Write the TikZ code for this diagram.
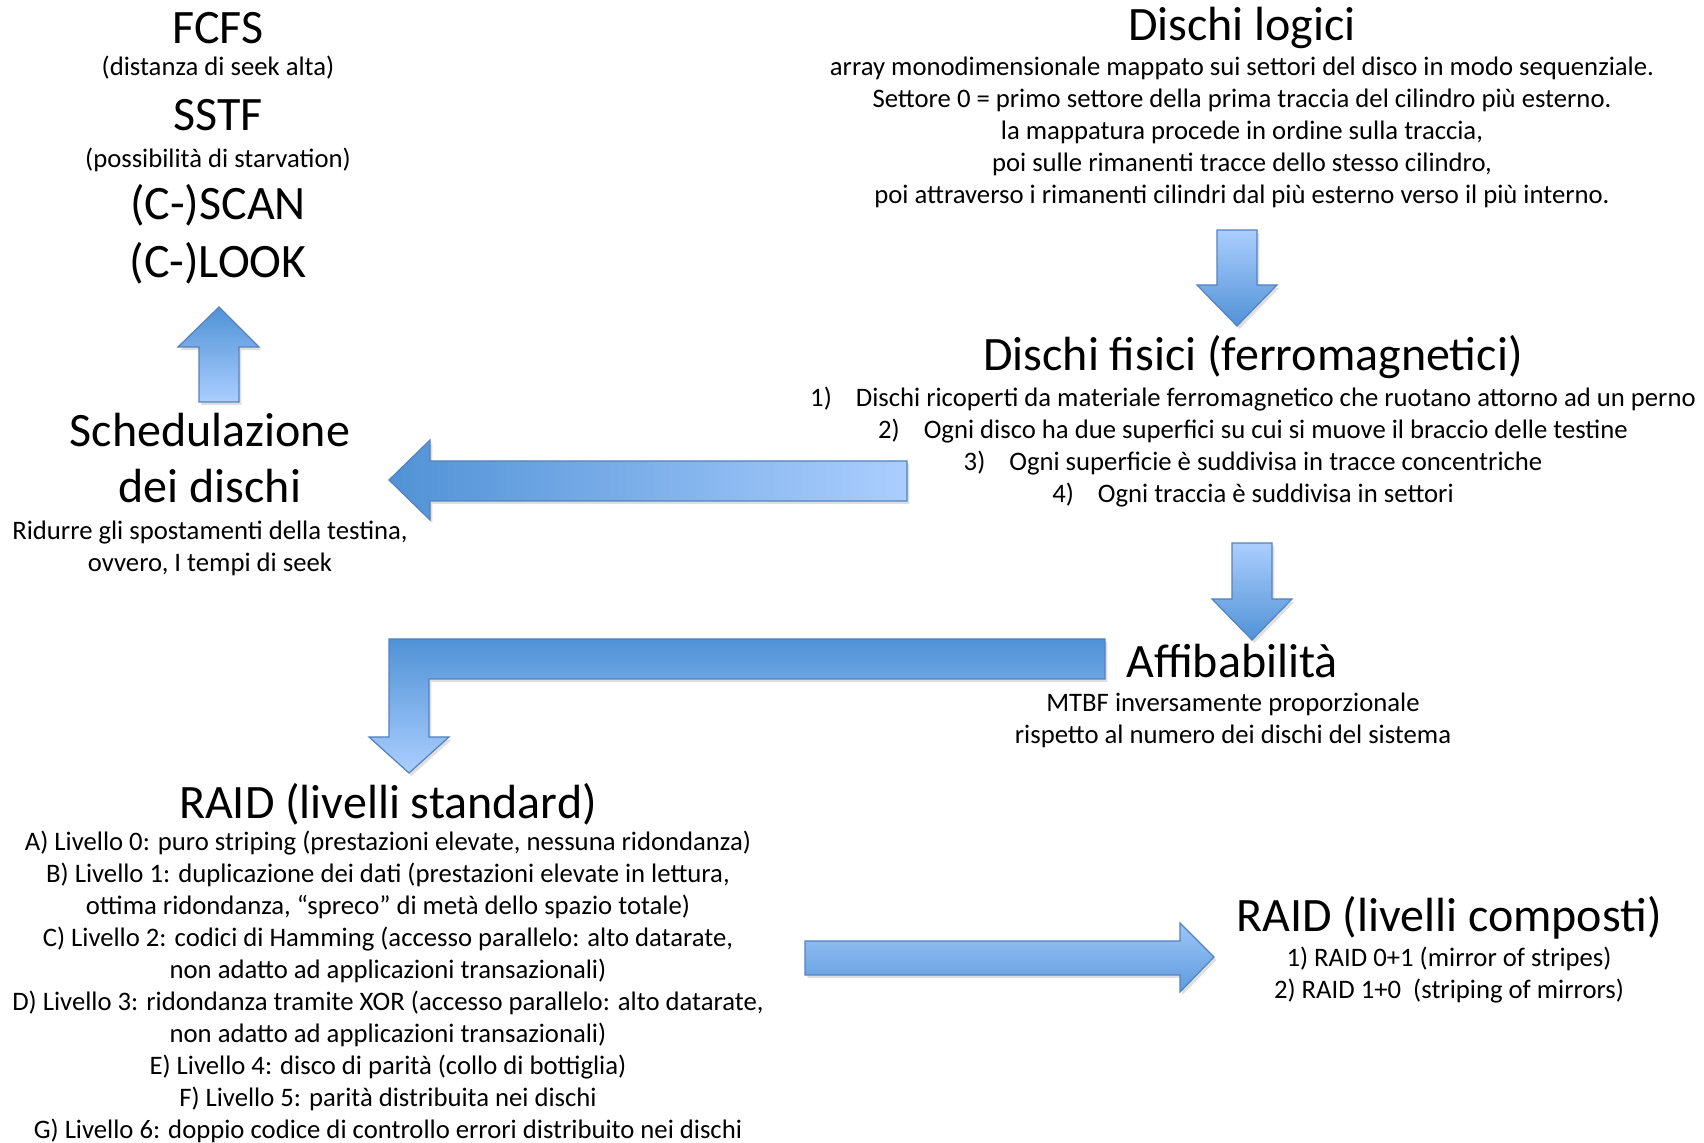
\documentclass[tikz,border=0pt]{standalone}
\usepackage{fontspec}
\setmainfont{Carlito}
\usepackage{xcolor}
\usetikzlibrary{shadows}

\definecolor{arrowDark}{RGB}{80,146,214}
\definecolor{arrowLight}{RGB}{171,206,255}
\definecolor{arrowEdge}{RGB}{84,130,190}

\begin{document}
\begin{tikzpicture}[x=0.5pt, y=-0.5pt,
  bigTitle/.style={inner sep=0pt, align=center, font=\fontsize{24}{28}\selectfont},
  bodyText/.style={inner sep=0pt, align=center, font=\fontsize{13.35}{16}\selectfont},
  fatArrow/.style={draw=arrowEdge, line width=0.6pt, line join=miter,
    drop shadow={opacity=0.25, shadow xshift=1.2pt, shadow yshift=-1.5pt}},
]
  \useasboundingbox (0,0) rectangle (1704,1143);

% Scheduling algorithms
  \node[bigTitle] (fcfs) at (218,28) {FCFS};
  \node[bodyText] (fcfs-note) at (218,68) {(distanza di seek alta)};
  \node[bigTitle] (sstf) at (218,115) {SSTF};
  \node[bodyText] (sstf-note) at (218,160) {(possibilità di starvation)};
  \node[bigTitle] (scan) at (218,205) {(C-)SCAN};
  \node[bigTitle] (look) at (218,263) {(C-)LOOK};

  \node[bigTitle] (sched) at (210,458) {Schedulazione\\dei dischi};
  \node[bodyText] (sched-note) at (210,548) {Ridurre gli spostamenti della testina,\\ovvero, I tempi di seek};

% Logical disks
  \node[bigTitle] (logici) at (1242,28) {Dischi logici};
  \node[bodyText] (logici-note) at (1242,132.5) {array monodimensionale mappato sui settori del disco in modo sequenziale.\\
    Settore 0 = primo settore della prima traccia del cilindro più esterno.\\
    la mappatura procede in ordine sulla traccia,\\
    poi sulle rimanenti tracce dello stesso cilindro,\\
    poi attraverso i rimanenti cilindri dal più esterno verso il più interno.};

% Physical disks
  \node[bigTitle] (fisici) at (1253,357) {Dischi fisici (ferromagnetici)};
  \node[bodyText] (fisici-note) at (1253,447.5) {1)\hspace{12pt}Dischi ricoperti da materiale ferromagnetico che ruotano attorno ad un perno\\
    2)\hspace{12pt}Ogni disco ha due superfici su cui si muove il braccio delle testine\\
    3)\hspace{12pt}Ogni superficie è suddivisa in tracce concentriche\\
    4)\hspace{12pt}Ogni traccia è suddivisa in settori};

% Reliability
  \node[bigTitle] (affi) at (1232,661) {Affibabilità};
  \node[bodyText] (affi-note) at (1233,720) {MTBF inversamente proporzionale\\rispetto al numero dei dischi del sistema};

% RAID
  \node[bigTitle] (raid-std) at (388,804) {RAID (livelli standard)};
  \node[bodyText] (raid-std-note) at (388,987) {A) Livello 0: puro striping (prestazioni elevate, nessuna ridondanza)\\
    B) Livello 1: duplicazione dei dati (prestazioni elevate in lettura,\\
    ottima ridondanza, “spreco” di metà dello spazio totale)\\
    C) Livello 2: codici di Hamming (accesso parallelo: alto datarate,\\
    non adatto ad applicazioni transazionali)\\
    D) Livello 3: ridondanza tramite XOR (accesso parallelo: alto datarate,\\
    non adatto ad applicazioni transazionali)\\
    E) Livello 4: disco di parità (collo di bottiglia)\\
    F) Livello 5: parità distribuita nei dischi\\
    G) Livello 6: doppio codice di controllo errori distribuito nei dischi};

  \node[bigTitle] (raid-comp) at (1449,918) {RAID (livelli composti)};
  \node[bodyText] (raid-comp-note) at (1449,975) {1) RAID 0+1 (mirror of stripes)\\2) RAID 1+0~ (striping of mirrors)};

% block arrows
  \draw[fatArrow, top color=arrowDark, bottom color=arrowLight]
    (199,402) -- (199,347) -- (178,347) -- (219,307) -- (259,347) -- (239,347) -- (239,402) -- cycle;
  \draw[fatArrow, top color=arrowLight, bottom color=arrowDark]
    (1217,230) -- (1257,230) -- (1257,285) -- (1277,285) -- (1237,326) -- (1197,285) -- (1217,285) -- cycle;
  \draw[fatArrow, top color=arrowLight, bottom color=arrowDark]
    (1232,543) -- (1272,543) -- (1272,599) -- (1292,599) -- (1252,640) -- (1212,599) -- (1232,599) -- cycle;
  \draw[fatArrow, left color=arrowDark, right color=arrowLight]
    (907,461) -- (907,501) -- (430,501) -- (430,520) -- (389,480) -- (430,440) -- (430,461) -- cycle;
  \draw[fatArrow, top color=arrowDark, bottom color=arrowLight]
    (1105,639) -- (1105,679) -- (429,679) -- (429,737) -- (449,737) -- (409,773) -- (369,737) -- (389,737) -- (389,639) -- cycle;
  \draw[fatArrow, top color=arrowLight!85!arrowDark, bottom color=arrowDark!85!arrowLight]
    (805,941) -- (1180,941) -- (1180,923) -- (1214,957) -- (1180,992) -- (1180,975) -- (805,975) -- cycle;
\end{tikzpicture}
\end{document}
